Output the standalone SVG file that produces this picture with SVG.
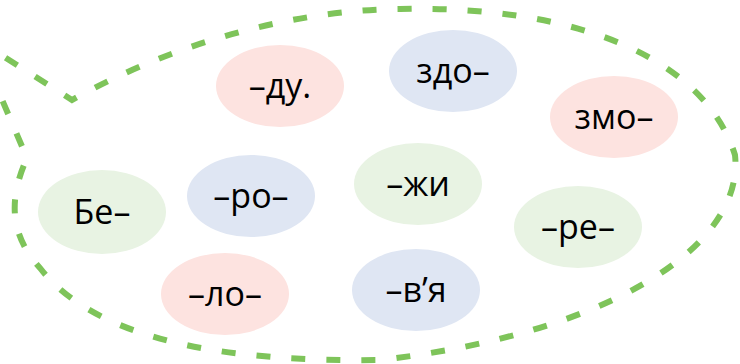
<svg xmlns="http://www.w3.org/2000/svg" width="740" height="364" viewBox="0 0 740 364">
<style>
.pink{fill:#fde3e0}
.blue{fill:#dfe6f3}
.green{fill:#e8f3e3}
text{font-family:"Open Sans","Noto Sans",sans-serif;font-size:34px;fill:#000;text-anchor:middle}
.outline{fill:none;stroke:#7ec45a;stroke-width:6;stroke-dasharray:14 21}
</style>
<rect width="740" height="364" fill="#fff"/>
<g id="connectors">
<path class="outline" d="M-24 39 L72 100 C170 45 290 10 400 9 C580 5 705 60 735 155 C745 250 600 335 380 360 C240 362 100 345 40 268 C10 235 8 200 27 158 Z"/>
</g>
<g id="n-du"><ellipse class="pink" cx="280" cy="86" rx="64" ry="41"/><text x="280" y="98">–ду.</text></g>
<g id="n-zdo"><ellipse class="blue" cx="453" cy="71" rx="64" ry="41"/><text x="453" y="83">здо–</text></g>
<g id="n-zmo"><ellipse class="pink" cx="614" cy="117" rx="64" ry="41"/><text x="614" y="129">змо–</text></g>
<g id="n-be"><ellipse class="green" cx="102" cy="212" rx="64" ry="42"/><text x="102" y="224">Бе–</text></g>
<g id="n-ro"><ellipse class="blue" cx="251" cy="196" rx="64" ry="41"/><text x="251" y="208">–ро–</text></g>
<g id="n-zhy"><ellipse class="green" cx="418" cy="184" rx="64" ry="41"/><text x="418" y="196">–жи</text></g>
<g id="n-re"><ellipse class="green" cx="578" cy="227" rx="64" ry="41"/><text x="578" y="239">–ре–</text></g>
<g id="n-lo"><ellipse class="pink" cx="225" cy="294" rx="64" ry="41"/><text x="225" y="306">–ло–</text></g>
<g id="n-vja"><ellipse class="blue" cx="416" cy="290" rx="64" ry="41"/><text x="416" y="302">–в’я</text></g>
</svg>
